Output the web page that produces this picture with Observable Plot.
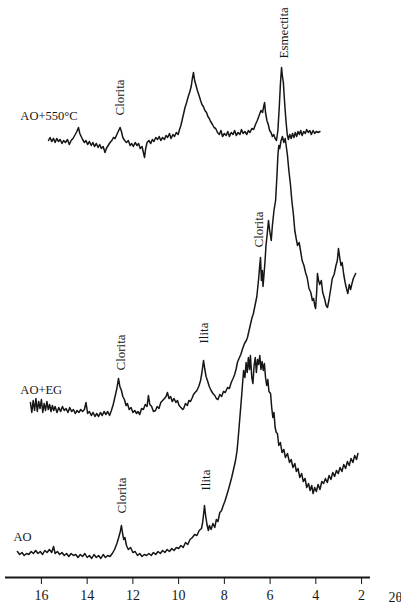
<!DOCTYPE html>
<html>
<head>
<meta charset="utf-8">
<script src="https://cdn.jsdelivr.net/npm/d3@7"></script>
<script src="https://cdn.jsdelivr.net/npm/@observablehq/plot@0.6"></script>
<style>
  html, body { margin: 0; padding: 0; background: #fff; }
  #chart svg { display: block; }
</style>
</head>
<body>
<div id="chart"></div>
<script>
// 2θ tick labels
const xTicks = [16, 14, 12, 10, 8, 6, 4, 2];

// Series names and vertical offsets (arbitrary intensity units)
const seriesNames = ["AO", "AO+EG", "AO+550°C"];
const seriesOffsets = [20, 167, 435];

// Diffractogram AO: [2θ, intensity]
const ao = [
[17.05,6],[16.95,3],[16.85,5],[16.75,2],[16.65,4],[16.55,3],[16.45,6],[16.35,4],[16.25,7],[16.15,4],
[16.05,6],[15.95,3],[15.85,7],[15.75,5],[15.65,8],[15.55,5],[15.47,11],[15.40,4],[15.30,6],[15.20,3],
[15.10,5],[15.00,2],[14.90,4],[14.80,1],[14.70,4],[14.60,2],[14.50,3],[14.40,0],[14.30,3],[14.20,1],
[14.10,4],[14.00,0],[13.90,2],[13.80,-1],[13.70,3],[13.60,0],[13.50,2],[13.40,-1],[13.30,3],[13.20,0],
[13.10,2],[13.00,1],[12.90,4],[12.80,8],[12.70,14],[12.62,20],[12.55,26],[12.50,32],[12.45,24],[12.40,18],
[12.35,20],[12.28,12],[12.20,8],[12.10,10],[12.00,5],[11.90,6],[11.80,2],[11.70,4],[11.60,1],[11.50,3],
[11.40,2],[11.30,4],[11.20,2],[11.10,5],[11.00,3],[10.90,6],[10.80,4],[10.70,7],[10.60,5],[10.50,8],
[10.40,6],[10.30,9],[10.20,7],[10.10,10],[10.00,9],[9.90,12],[9.80,10],[9.70,15],[9.60,13],[9.50,18],
[9.40,20],[9.30,23],[9.20,22],[9.10,27],[9.00,29],[8.95,35],[8.90,45],[8.87,52],[8.82,42],[8.76,33],
[8.70,27],[8.65,32],[8.58,28],[8.50,34],[8.42,30],[8.35,38],[8.28,36],[8.20,45],[8.12,47],[8.05,52],
[7.98,56],[7.90,62],[7.82,68],[7.75,74],[7.68,80],[7.60,88],[7.52,96],[7.45,106],[7.40,118],[7.35,132],
[7.30,146],[7.25,160],[7.20,175],[7.16,187],[7.10,180],[7.05,195],[7.00,185],[6.95,200],[6.90,188],[6.86,202],
[6.80,180],[6.75,174],[6.70,192],[6.65,200],[6.60,185],[6.55,198],[6.50,193],[6.45,202],[6.40,188],[6.35,196],
[6.30,187],[6.25,194],[6.20,180],[6.15,172],[6.10,178],[6.05,166],[5.98,164],[5.93,150],[5.88,140],[5.83,145],
[5.78,130],[5.73,125],[5.68,124],[5.62,112],[5.55,115],[5.48,105],[5.40,108],[5.33,100],[5.24,104],[5.15,95],
[5.08,98],[5.00,90],[4.92,94],[4.85,86],[4.78,89],[4.70,80],[4.62,84],[4.55,76],[4.47,79],[4.40,70],
[4.32,74],[4.25,67],[4.18,72],[4.12,64],[4.05,70],[3.98,66],[3.90,73],[3.82,68],[3.74,76],[3.66,74],
[3.58,79],[3.50,75],[3.42,82],[3.34,78],[3.26,85],[3.18,81],[3.10,87],[3.02,84],[2.94,90],[2.86,86],
[2.78,93],[2.70,89],[2.62,96],[2.54,92],[2.46,99],[2.38,95],[2.30,102],[2.22,98],[2.16,104]
];

// Diffractogram AO+EG: [2θ, intensity]
const aoEg = [
[16.48,8],[16.42,-2],[16.36,10],[16.30,0],[16.24,12],[16.18,-1],[16.12,9],[16.06,2],[16.00,11],[15.94,-2],
[15.88,7],[15.82,0],[15.76,9],[15.70,1],[15.64,6],[15.58,-1],[15.52,5],[15.46,0],[15.40,4],[15.32,-2],
[15.24,3],[15.16,-1],[15.08,4],[15.00,0],[14.92,2],[14.84,-2],[14.76,3],[14.68,-1],[14.60,1],[14.52,-3],
[14.44,0],[14.36,-2],[14.28,1],[14.20,-1],[14.12,1],[14.05,8],[13.98,-3],[13.90,-1],[13.82,-5],[13.74,-2],
[13.66,-6],[13.58,-3],[13.50,-6],[13.42,-2],[13.34,-5],[13.26,-1],[13.18,-4],[13.10,-1],[13.02,-5],[12.94,0],
[12.86,6],[12.78,14],[12.70,22],[12.63,32],[12.57,24],[12.50,20],[12.44,14],[12.37,11],[12.30,5],[12.24,7],
[12.16,1],[12.08,3],[12.00,-2],[11.92,0],[11.84,-3],[11.78,-1],[11.70,-4],[11.62,2],[11.54,1],[11.46,6],
[11.38,4],[11.32,15],[11.26,6],[11.18,4],[11.10,-1],[11.01,0],[10.94,4],[10.86,2],[10.78,8],[10.70,10],
[10.62,12],[10.55,14],[10.49,18],[10.42,12],[10.35,14],[10.28,9],[10.20,12],[10.12,8],[10.05,10],[9.98,5],
[9.90,3],[9.82,1],[9.78,2],[9.70,7],[9.62,5],[9.55,10],[9.48,9],[9.40,13],[9.35,16],[9.28,18],
[9.20,20],[9.12,24],[9.04,30],[8.98,38],[8.91,50],[8.86,42],[8.80,34],[8.74,30],[8.66,24],[8.58,20],
[8.50,17],[8.42,15],[8.35,12],[8.28,11],[8.20,16],[8.12,14],[8.04,19],[7.96,18],[7.86,23],[7.78,22],
[7.70,28],[7.62,32],[7.55,36],[7.48,42],[7.43,48],[7.36,52],[7.28,56],[7.20,62],[7.12,67],[7.04,70],
[6.99,73],[6.92,80],[6.86,86],[6.80,92],[6.73,97],[6.66,105],[6.58,114],[6.50,132],[6.45,146],[6.42,153],
[6.38,130],[6.34,140],[6.31,124],[6.27,135],[6.22,150],[6.18,165],[6.12,178],[6.07,190],[6.02,180],[5.95,170],
[5.90,185],[5.83,200],[5.76,210],[5.70,235],[5.66,255],[5.62,265],[5.58,262],[5.52,270],[5.46,274],[5.40,268],
[5.34,272],[5.28,262],[5.24,255],[5.18,240],[5.11,226],[5.05,210],[4.98,196],[4.92,180],[4.86,172],[4.80,165],
[4.73,168],[4.67,160],[4.60,150],[4.52,145],[4.45,138],[4.38,133],[4.30,122],[4.22,118],[4.15,110],[4.10,112],
[4.04,104],[4.01,102],[3.96,120],[3.93,137],[3.88,130],[3.83,126],[3.76,130],[3.70,118],[3.62,112],[3.55,105],
[3.49,103],[3.43,110],[3.36,120],[3.28,132],[3.20,136],[3.12,145],[3.06,150],[3.01,162],[2.95,152],[2.90,145],
[2.85,148],[2.78,136],[2.72,128],[2.66,122],[2.60,117],[2.54,126],[2.48,121],[2.42,127],[2.36,132],[2.26,137]
];

// Diffractogram AO+550°C: [2θ, intensity]
const ao550 = [
[15.69,2],[15.62,5],[15.55,1],[15.47,4],[15.40,0],[15.33,4],[15.25,1],[15.18,3],[15.10,-1],[15.03,2],
[14.95,0],[14.86,3],[14.78,-2],[14.70,2],[14.62,4],[14.52,8],[14.45,11],[14.38,15],[14.32,9],[14.26,6],
[14.20,3],[14.12,0],[14.05,2],[13.98,-2],[13.90,1],[13.82,-3],[13.75,0],[13.68,-4],[13.60,-1],[13.52,-5],
[13.45,-2],[13.38,-6],[13.30,-4],[13.22,-10],[13.16,-6],[13.08,-3],[13.00,0],[12.92,2],[12.85,5],[12.78,4],
[12.70,8],[12.62,12],[12.56,15],[12.50,11],[12.44,5],[12.36,2],[12.28,0],[12.20,2],[12.12,-3],[12.05,-1],
[11.98,-4],[11.90,0],[11.82,-3],[11.75,-1],[11.68,-6],[11.60,-4],[11.54,-10],[11.49,-15],[11.44,-6],[11.38,0],
[11.30,2],[11.22,-1],[11.15,3],[11.08,1],[11.00,5],[10.92,3],[10.85,6],[10.78,2],[10.70,5],[10.62,3],
[10.55,7],[10.48,5],[10.40,9],[10.33,4],[10.25,8],[10.18,6],[10.10,10],[10.02,8],[9.96,13],[9.90,17],
[9.83,24],[9.78,29],[9.72,35],[9.65,40],[9.58,46],[9.52,50],[9.45,56],[9.40,64],[9.35,70],[9.30,62],
[9.25,58],[9.18,52],[9.12,48],[9.04,42],[8.98,38],[8.92,36],[8.85,32],[8.78,30],[8.72,26],[8.66,24],
[8.60,21],[8.52,18],[8.45,15],[8.38,14],[8.30,10],[8.22,8],[8.15,12],[8.08,6],[8.00,9],[7.92,7],
[7.85,11],[7.78,6],[7.70,10],[7.62,8],[7.55,12],[7.48,7],[7.40,10],[7.32,8],[7.25,13],[7.18,9],
[7.10,11],[7.02,8],[6.95,12],[6.88,10],[6.80,14],[6.72,13],[6.64,18],[6.56,22],[6.48,27],[6.40,32],
[6.33,30],[6.28,36],[6.24,40],[6.20,30],[6.14,22],[6.08,18],[6.02,12],[5.96,10],[5.90,6],[5.84,8],
[5.78,4],[5.72,2],[5.66,12],[5.60,35],[5.55,58],[5.50,75],[5.46,66],[5.42,60],[5.38,45],[5.34,32],
[5.30,20],[5.25,8],[5.20,3],[5.14,8],[5.08,4],[5.02,9],[4.96,5],[4.90,10],[4.84,6],[4.78,11],
[4.72,8],[4.66,12],[4.60,7],[4.53,11],[4.46,9],[4.40,13],[4.33,10],[4.26,12],[4.20,8],[4.12,12],
[4.05,9],[3.98,11],[3.90,10],[3.82,11]
];

// Peak labels: [label, 2θ, level]
const peakLabels = [
["Clorita", 12.59, 462],
["Esmectita", 5.41, 519],
["Clorita", 12.54, 207],
["Ilita", 8.91, 234],
["Clorita", 6.51, 330],
["Clorita", 12.50, 64],
["Ilita", 8.83, 87]
];

// Series labels: [label, 2θ, level, font]
const seriesLabels = [
["AO+550°C", 16.92, 462, "Liberation Serif"],
["AO+EG", 16.92, 188, "Liberation Sans"],
["AO", 17.22, 41, "Liberation Sans"]
];

const allSeries = [ao, aoEg, ao550];
const rows = [];
allSeries.forEach((s, i) => {
  s.forEach(([tt, v]) => rows.push({series: seriesNames[i], tt, y: v + seriesOffsets[i]}));
});

const ink = "#161616";

const chart = Plot.plot({
  width: 401,
  height: 608,
  marginLeft: 5,
  marginRight: 31,
  marginTop: 0,
  marginBottom: 31,
  style: {background: "#fff", fontFamily: "Liberation Serif", fontSize: "14px", color: ink},
  x: {domain: [17.57, 1.61], ticks: xTicks, tickSize: 7, tickPadding: 6, tickFormat: d => String(d), label: null},
  y: {domain: [0, 577], axis: null},
  marks: [
    Plot.ruleY([0], {stroke: ink, strokeWidth: 1.8}),
    Plot.line(rows, {x: "tt", y: "y", z: "series", stroke: ink, strokeWidth: 1.5, strokeLinejoin: "round"}),
    Plot.text(peakLabels, {x: d => d[1], y: d => d[2], text: d => d[0], rotate: -90, textAnchor: "start", lineAnchor: "middle",
      fontFamily: "Liberation Serif", fontSize: 13, fill: ink}),
    Plot.text(seriesLabels, {x: d => d[1], y: d => d[2], text: d => d[0], textAnchor: "start", lineAnchor: "middle",
      fontFamily: d => d[3], fontSize: 12.5, fill: ink}),
    Plot.text(["2θ"], {x: 0.82, y: -20, text: d => d, textAnchor: "start", lineAnchor: "middle", fontFamily: "Liberation Serif", fontSize: 14, fill: ink})
  ]
});
document.getElementById("chart").appendChild(chart);
</script>
</body>
</html>
